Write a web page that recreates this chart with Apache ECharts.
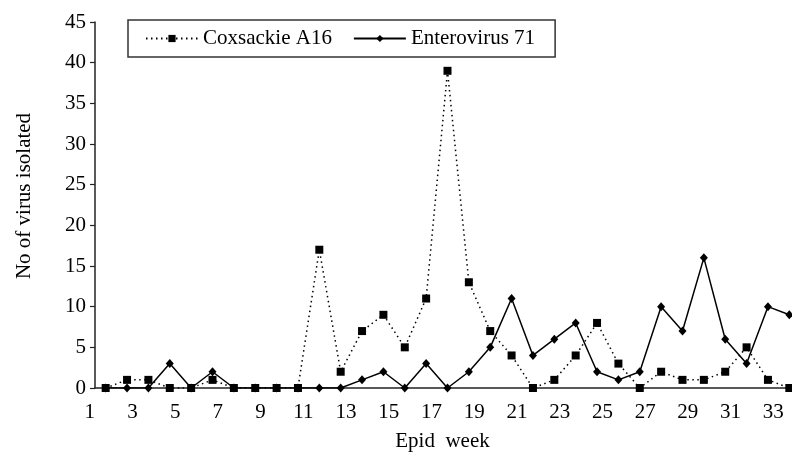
<!DOCTYPE html>
<html>
<head>
<meta charset="utf-8">
<script src="https://cdn.jsdelivr.net/npm/echarts@6/dist/echarts.min.js"></script>
<style>
  html, body { margin: 0; padding: 0; background: #fff; }
  #main { width: 792px; height: 459px; }
</style>
</head>
<body>
<div id="main"></div>
<script>
var weeks = ['1','2','3','4','5','6','7','8','9','10','11','12','13','14','15','16','17',
             '18','19','20','21','22','23','24','25','26','27','28','29','30','31','32','33']
var coxsackie = [0,1,1,0,0,1,0,0,0,0,17,2,7,9,5,11,39,13,7,4,0,1,4,8,3,0,2,1,1,2,5,1,0]
var enterovirus = [0,0,0,3,0,2,0,0,0,0,0,0,1,2,0,3,0,2,5,11,4,6,8,2,1,2,10,7,16,6,3,10,9]

var font = 'Liberation Serif'
var myChart = echarts.init(document.getElementById('main'))
var option = {
    animation: false,
    textStyle: { fontFamily: font, color: '#000' },
    // plot runs a little past the right edge, like the cropped original
    grid: { left: 95, width: 705, top: 22, bottom: 71, outerBoundsMode: 'none' },
    legend: {
        left: 128, top: 20,
        padding: [7, 20, 7, 17],
        itemWidth: 52, itemHeight: 9, itemGap: 21,
        borderColor: '#333', borderWidth: 1.5, backgroundColor: '#fff',
        textStyle: { fontFamily: font, fontSize: 21, lineHeight: 23, color: '#000' },
        data: ['Coxsackie A16', 'Enterovirus 71']
    },
    xAxis: {
        type: 'category',
        data: weeks,
        boundaryGap: true,
        name: 'Epid  week',
        nameLocation: 'middle',
        nameGap: 43,
        nameTextStyle: { fontFamily: font, fontSize: 21, color: '#000', padding: [0, 10, 0, 0] },
        axisLine: { lineStyle: { color: '#222', width: 1.5 } },
        axisTick: { interval: 0, length: 5, lineStyle: { color: '#222', width: 1.2 } },
        axisLabel: { interval: 1, margin: 14, fontFamily: font, fontSize: 21, color: '#000', padding: [0, 32, 0, 0] },
        splitLine: { show: false }
    },
    yAxis: {
        type: 'value',
        min: 0, max: 45, interval: 5,
        name: 'No of virus isolated',
        nameLocation: 'middle',
        nameGap: 60,
        nameRotate: 90,
        nameTextStyle: { fontFamily: font, fontSize: 21, color: '#000', padding: [0, 0, 0, 18] },
        axisLine: { show: true, lineStyle: { color: '#222', width: 1.5 } },
        axisTick: { show: true, length: 5, lineStyle: { color: '#222', width: 1.2 } },
        axisLabel: { margin: 9, fontFamily: font, fontSize: 21, color: '#000' },
        splitLine: { show: false }
    },
    series: [
        {
            name: 'Coxsackie A16',
            type: 'line',
            data: coxsackie,
            symbol: 'rect',
            symbolSize: 8,
            itemStyle: { color: '#000' },
            lineStyle: { color: '#000', width: 1.5, type: [1.5, 3.5] }
        },
        {
            name: 'Enterovirus 71',
            type: 'line',
            data: enterovirus,
            symbol: 'diamond',
            symbolSize: [8, 9],
            itemStyle: { color: '#000' },
            lineStyle: { color: '#000', width: 1.5 }
        }
    ]
}
myChart.setOption(option)
</script>
</body>
</html>
